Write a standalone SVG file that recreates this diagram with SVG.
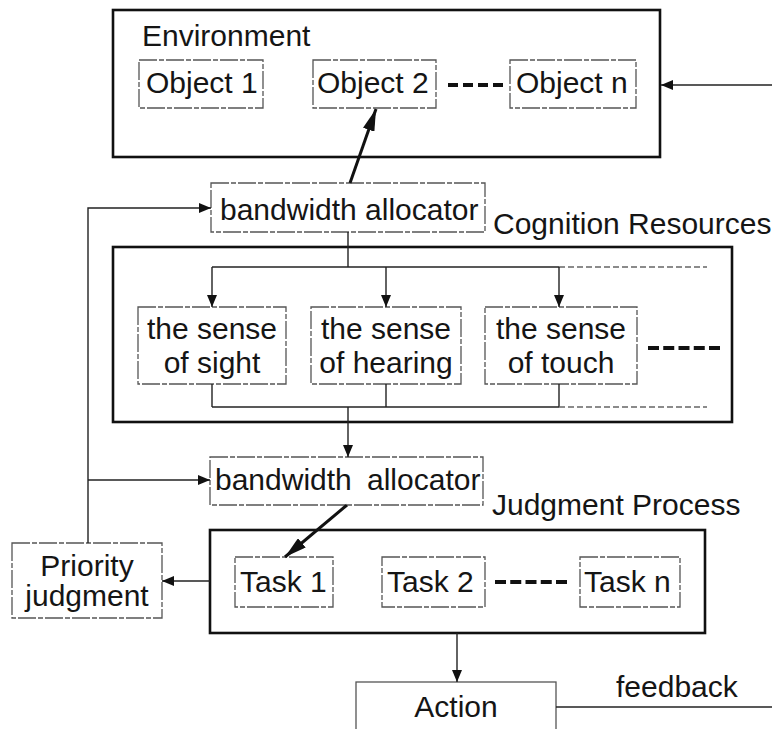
<svg xmlns="http://www.w3.org/2000/svg" width="772" height="729" viewBox="0 0 772 729">
  <defs>
    <marker id="arr" viewBox="0 0 12 10" refX="12" refY="5" markerWidth="12" markerHeight="10" markerUnits="userSpaceOnUse" orient="auto">
      <path d="M0,0 L12,5 L0,10 z" fill="#111"/>
    </marker>
    <marker id="arrBig" viewBox="0 0 22 12" refX="22" refY="6" markerWidth="22" markerHeight="12" markerUnits="userSpaceOnUse" orient="auto">
      <path d="M0,0 L22,6 L0,12 z" fill="#111"/>
    </marker>
    <style>
      text { font-family: "Liberation Sans", Arial, sans-serif; font-size: 30px; fill: #151515; }
      .mid { text-anchor: middle; }
      .outer { fill: none; stroke: #111; stroke-width: 2.6; }
      .inner { fill: #fff; stroke: #555; stroke-width: 1.3; stroke-dasharray: 18 2 5 2; }
      .plain { fill: #fff; stroke: #555; stroke-width: 1.3; }
      .wire { fill: none; stroke: #222; stroke-width: 1.4; }
      .faint { fill: none; stroke: #666; stroke-width: 1.3; stroke-dasharray: 6 3; }
      .thick { fill: none; stroke: #111; stroke-width: 3; }
      .dots { fill: none; stroke: #111; stroke-width: 4; }
    </style>
  </defs>

  <!-- Environment -->
  <g id="environment">
    <rect class="outer" x="113" y="10" width="547" height="147"/>
    <text x="142" y="46">Environment</text>
  </g>
  <g id="object1">
    <rect class="inner" x="139" y="60" width="124" height="48"/>
    <text x="146" y="93">Object 1</text>
  </g>
  <g id="object2">
    <rect class="inner" x="313" y="60" width="123" height="48"/>
    <text x="317" y="93">Object 2</text>
  </g>
  <g id="objectn">
    <rect class="inner" x="510" y="60" width="126" height="48"/>
    <text x="516" y="93">Object n</text>
  </g>

  <!-- first allocator -->
  <g id="allocator1">
    <rect class="inner" x="211" y="183" width="274" height="49"/>
    <text x="220" y="220">bandwidth allocator</text>
  </g>

  <!-- Cognition resources -->
  <g id="cognition">
    <rect class="outer" x="113" y="247" width="619" height="175"/>
    <text x="493" y="234">Cognition Resources</text>
  </g>
  <g id="sight">
    <rect class="inner" x="138" y="307" width="148" height="77"/>
    <text class="mid" x="212" y="339">the sense</text>
    <text class="mid" x="212" y="373">of sight</text>
  </g>
  <g id="hearing">
    <rect class="inner" x="311" y="307" width="150" height="77"/>
    <text class="mid" x="386" y="339">the sense</text>
    <text class="mid" x="386" y="373">of hearing</text>
  </g>
  <g id="touch">
    <rect class="inner" x="485" y="307" width="152" height="77"/>
    <text class="mid" x="561" y="339">the sense</text>
    <text class="mid" x="561" y="373">of touch</text>
  </g>

  <!-- second allocator -->
  <g id="allocator2">
    <rect class="inner" x="210" y="457" width="273" height="48"/>
    <text y="490"><tspan x="215">bandwidth</tspan><tspan x="367">allocator</tspan></text>
  </g>

  <!-- Judgment process -->
  <g id="judgment">
    <rect class="outer" x="210" y="530" width="495" height="103"/>
    <text x="492" y="515">Judgment Process</text>
  </g>
  <g id="task1">
    <rect class="inner" x="235" y="557" width="98" height="50"/>
    <text x="240" y="592">Task 1</text>
  </g>
  <g id="task2">
    <rect class="inner" x="382" y="557" width="103" height="50"/>
    <text x="387" y="592">Task 2</text>
  </g>
  <g id="taskn">
    <rect class="inner" x="580" y="557" width="100" height="50"/>
    <text x="584" y="592">Task n</text>
  </g>

  <g id="priority">
    <rect class="inner" x="12" y="543" width="150" height="75"/>
    <text class="mid" x="87" y="576">Priority</text>
    <text class="mid" x="87" y="606">judgment</text>
  </g>

  <g id="action">
    <rect class="plain" x="356" y="682" width="200" height="60"/>
    <text class="mid" x="456" y="717">Action</text>
  </g>
  <text x="616" y="697">feedback</text>

  <!-- connectors -->
  <g id="connectors">
    <!-- feedback into environment -->
    <line class="wire" x1="772" y1="85" x2="661" y2="85" marker-end="url(#arr)"/>
    <!-- allocator to Object 2 -->
    <line class="thick" x1="350" y1="183" x2="376" y2="109" marker-end="url(#arrBig)"/>
    <!-- allocator fan-out to senses -->
    <line class="wire" x1="348" y1="232" x2="348" y2="267"/>
    <line class="wire" x1="212" y1="267" x2="559" y2="267"/>
    <line class="faint" x1="559" y1="267" x2="707" y2="267"/>
    <line class="wire" x1="212" y1="267" x2="212" y2="307" marker-end="url(#arr)"/>
    <line class="wire" x1="386" y1="267" x2="386" y2="307" marker-end="url(#arr)"/>
    <line class="wire" x1="559" y1="267" x2="559" y2="307" marker-end="url(#arr)"/>
    <path class="dots" d="M648,348 H720" stroke-dasharray="11 4.25"/>
    <!-- senses gathered to second allocator -->
    <line class="wire" x1="212" y1="384" x2="212" y2="407"/>
    <line class="wire" x1="386" y1="384" x2="386" y2="407"/>
    <line class="wire" x1="559" y1="384" x2="559" y2="407"/>
    <line class="wire" x1="212" y1="407" x2="559" y2="407"/>
    <line class="faint" x1="559" y1="407" x2="707" y2="407"/>
    <line class="wire" x1="348" y1="407" x2="348" y2="457" marker-end="url(#arr)"/>
    <!-- object ellipsis -->
    <path class="dots" d="M448,85 H503" stroke-dasharray="10 5"/>
    <!-- allocator to Task 1 -->
    <line class="thick" x1="347" y1="505" x2="285" y2="557" marker-end="url(#arrBig)"/>
    <!-- task ellipsis -->
    <path class="dots" d="M495,582 H567" stroke-dasharray="11 4.25"/>
    <!-- tasks to priority judgment -->
    <line class="wire" x1="210" y1="581" x2="162" y2="581" marker-end="url(#arr)"/>
    <!-- priority loop back to allocators -->
    <polyline class="wire" points="88,543 88,208 211,208" marker-end="url(#arr)"/>
    <line class="wire" x1="88" y1="480" x2="210" y2="480" marker-end="url(#arr)"/>
    <!-- judgment to action -->
    <line class="wire" x1="457" y1="633" x2="457" y2="682" marker-end="url(#arr)"/>
    <!-- action feedback -->
    <line class="wire" x1="556" y1="707" x2="772" y2="707"/>
  </g>
</svg>
